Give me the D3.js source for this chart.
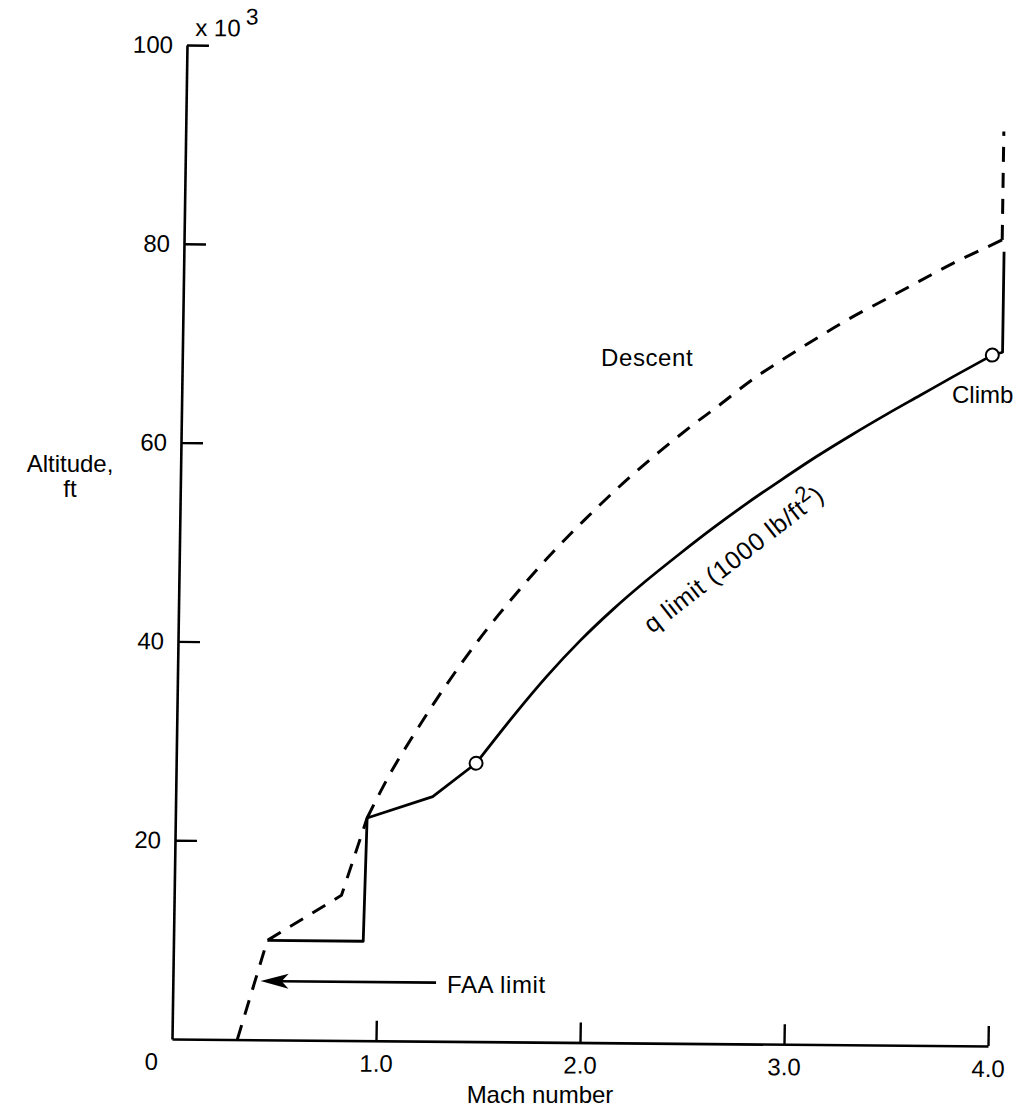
<!DOCTYPE html>
<html>
<head>
<meta charset="utf-8">
<script src="https://cdn.jsdelivr.net/npm/d3@7"></script>
<style>
  html, body { margin: 0; padding: 0; background: #fff; }
  svg { display: block; }
  text { font-family: "Liberation Sans", Arial, Helvetica, sans-serif; fill: #000; }
</style>
</head>
<body>
<svg id="chart" width="1020" height="1116"></svg>
<script>
// ---- data (Mach number, altitude in 1000 ft) ----
const descentMach = [0.32, 0.46, 0.82, 0.94, 1.05, 1.18, 1.31, 1.47, 1.63, 1.80, 1.98, 2.17, 2.34, 2.50, 2.64, 2.80, 2.96, 3.12, 3.28, 3.45, 3.61, 3.77, 3.94, 4.01, 4.01];
const descentAlt  = [0,    10,   14.6, 22.4, 26.9, 31.4, 35.6, 40.3, 44.5, 48.6, 52.5, 56.3, 59.4, 62.1, 64.3, 66.9, 69.1, 71.2, 73.2, 75.1, 76.9, 78.7, 80.4, 81.1, 92];

const climbMach = [0.46, 0.93, 0.94, 1.26, 1.47, 1.65, 1.81, 1.97, 2.13, 2.29, 2.45, 2.61, 2.78, 2.94, 3.12, 3.29, 3.46, 3.62, 3.78, 3.97, 4.02, 4.02];
const climbAlt  = [10,   10,   22.4, 24.6, 28.0, 32.8, 36.8, 40.4, 43.6, 46.5, 49.2, 51.8, 54.4, 56.7, 59.2, 61.4, 63.5, 65.4, 67.3, 69.5, 69.8, 79.9];

const markerMach = [1.47, 3.97];
const markerAlt  = [28.0, 69.5];

const faaMach = [1.29, 0.43];   // arrow tail -> tip
const faaAlt  = [5.9, 5.9];

const xTicks = [1, 2, 3, 4];
const xTickLabels = ["1.0", "2.0", "3.0", "4.0"];
const yTicks = [20, 40, 60, 80, 100];
const yTickLabels = ["20", "40", "60", "80", "100"];

// ---- drawing ----
const svg = d3.select("#chart");
const FS = 24;

const x = d3.scaleLinear().domain([0, 4]).range([0, 816]);
const y = d3.scaleLinear().domain([0, 100]).range([994, 0]);

// slight skew of the scanned original
const g = svg.append("g").attr("transform", "matrix(1,0.00858,-0.01509,1,187,45)");

// y axis
const yAxis = d3.axisLeft(y)
  .tickValues(yTicks)
  .tickFormat((d, i) => yTickLabels[i])
  .tickSize(-22).tickSizeOuter(0).tickPadding(14);
const yg = g.append("g").call(yAxis);
yg.select(".domain").attr("stroke", "#000").attr("stroke-width", 2.6);
yg.selectAll(".tick line").attr("stroke", "#000").attr("stroke-width", 2.4);
yg.selectAll(".tick text").attr("font-size", FS).attr("font-family", "Liberation Sans, Arial, sans-serif").attr("fill", "#000");

// x axis
const xAxis = d3.axisBottom(x)
  .tickValues(xTicks)
  .tickFormat((d, i) => xTickLabels[i])
  .tickSize(-20).tickSizeOuter(0).tickPadding(14);
const xg = g.append("g").attr("transform", `translate(0,${y(0)})`).call(xAxis);
xg.select(".domain").attr("stroke", "#000").attr("stroke-width", 2.6);
xg.selectAll(".tick line").attr("stroke", "#000").attr("stroke-width", 2.4);
xg.selectAll(".tick text").attr("font-size", FS).attr("font-family", "Liberation Sans, Arial, sans-serif").attr("fill", "#000");

// origin label
g.append("text").attr("x", x(0) - 27).attr("y", y(0) + 31)
  .attr("font-size", FS).text("0");

// x 10^3 scale marker
const sc = g.append("text").attr("x", x(0) + 8).attr("y", y(100) - 9).attr("font-size", FS);
sc.append("tspan").text("x 10");
sc.append("tspan").attr("dx", 5).attr("dy", -12).attr("font-size", FS * 0.95).text("3");

// lines: straight segments where the original has kinks, smooth where it curves
const pts = (ms, as) => ms.map((m, i) => [m, as[i]]);
const descent = pts(descentMach, descentAlt);
const climb = pts(climbMach, climbAlt);
const straight = d3.line().x(d => x(d[0])).y(d => y(d[1]));
const smooth = d3.line().x(d => x(d[0])).y(d => y(d[1])).curve(d3.curveCatmullRom.alpha(0.5));

function drawPieces(data, pieces, style) {
  pieces.forEach(([i0, i1, gen]) => {
    const p = g.append("path").datum(data.slice(i0, i1 + 1)).attr("d", gen)
      .attr("fill", "none").attr("stroke", "#000").attr("stroke-linejoin", "round");
    style(p);
  });
}

drawPieces(descent, [[0, 3, straight], [3, 23, smooth], [23, 24, straight]],
  p => p.attr("stroke-width", 3).attr("stroke-dasharray", "15,11"));

drawPieces(climb, [[0, 4, straight], [4, 19, smooth], [19, 21, straight]],
  p => p.attr("stroke-width", 2.8));

// markers
g.selectAll("circle.marker").data(pts(markerMach, markerAlt))
  .join("circle").attr("class", "marker")
  .attr("cx", d => x(d[0])).attr("cy", d => y(d[1])).attr("r", 6.5)
  .attr("fill", "#fff").attr("stroke", "#000").attr("stroke-width", 2);

// FAA arrow
const tail = [x(faaMach[0]), y(faaAlt[0])];
const tip = [x(faaMach[1]), y(faaAlt[1])];
g.append("line").attr("x1", tail[0]).attr("y1", tail[1]).attr("x2", tip[0] + 20).attr("y2", tip[1])
  .attr("stroke", "#000").attr("stroke-width", 2.6);
g.append("path")
  .attr("d", `M${tip[0]},${tip[1]} L${tip[0] + 28},${tip[1] - 7.5} L${tip[0] + 21},${tip[1]} L${tip[0] + 28},${tip[1] + 7.5} Z`)
  .attr("fill", "#000");

// annotations
svg.append("text").attr("x", 447).attr("y", 993).attr("font-size", FS).attr("letter-spacing", 0.6).text("FAA limit");
svg.append("text").attr("x", 601).attr("y", 366).attr("font-size", FS).attr("letter-spacing", 0.6).text("Descent");
svg.append("text").attr("x", 952).attr("y", 403).attr("font-size", FS).text("Climb");

const q = svg.append("text").attr("font-size", 25).attr("letter-spacing", 0.8)
  .attr("transform", "translate(652,634) rotate(-38)");
q.append("tspan").text("q limit (1000 lb/ft");
q.append("tspan").attr("dy", -10).attr("font-size", 22).text("2");
q.append("tspan").attr("dy", 10).text(")");

// axis titles
svg.append("text").attr("x", 70).attr("y", 472).attr("text-anchor", "middle").attr("font-size", FS).text("Altitude,");
svg.append("text").attr("x", 70).attr("y", 497).attr("text-anchor", "middle").attr("font-size", FS).text("ft");
svg.append("text").attr("x", 540).attr("y", 1103).attr("text-anchor", "middle").attr("font-size", FS).text("Mach number");
</script>
</body>
</html>
